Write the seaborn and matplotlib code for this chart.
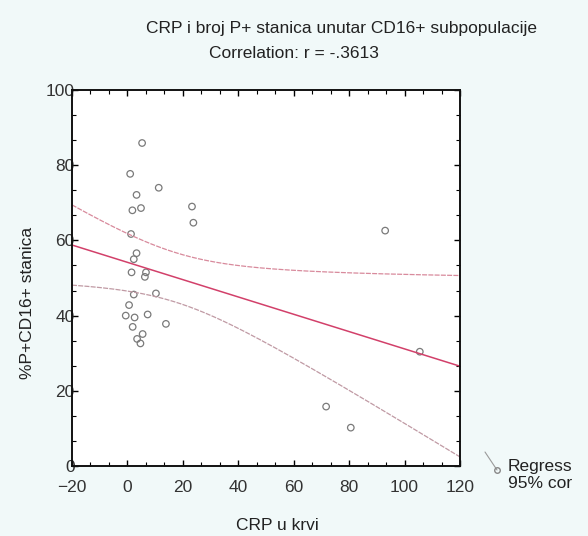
import numpy as np
import pandas as pd
import matplotlib
matplotlib.use("Agg")
import matplotlib.pyplot as plt
from matplotlib.lines import Line2D
from matplotlib.ticker import MultipleLocator
import seaborn as sns

# values
crp = [5.3, 1.0, 11.3, 3.3, 1.8, 4.9, 23.3, 23.8, 1.3, 3.3, 2.3, 1.5, 6.7, 6.3,
       2.3, 10.3, 0.6, -0.6, 2.6, 7.3, 13.9, 1.9, 5.5, 3.5, 4.7,
       93.0, 105.5, 71.7, 80.6]
p_cd16 = [85.9, 77.7, 74.0, 72.1, 68.0, 68.6, 69.0, 64.7, 61.7, 56.6, 55.0, 51.5, 51.5, 50.3,
          45.6, 45.9, 42.8, 40.0, 39.5, 40.3, 37.8, 37.0, 35.1, 33.8, 32.6,
          62.6, 30.4, 15.8, 10.2]
x_ticks = [-20, 0, 20, 40, 60, 80, 100, 120]
y_ticks = [0, 20, 40, 60, 80, 100]

df = pd.DataFrame({"CRP u krvi": crp, "%P+CD16+ stanica": p_cd16})

sns.set_style("ticks")
plt.rcParams["font.family"] = ["Liberation Sans", "DejaVu Sans"]

fig = plt.figure(figsize=(5.88, 5.36), dpi=100, facecolor="#f1f9f9")
ax = fig.add_axes([0.1224, 0.1306, 0.6599, 0.7015])
ax.set_facecolor("white")

sns.scatterplot(data=df, x="CRP u krvi", y="%P+CD16+ stanica", ax=ax,
                marker="o", s=22, facecolor="none", edgecolor="#7a7a7a", linewidth=0.9)
ax.set_xlim(x_ticks[0], x_ticks[-1])
ax.set_ylim(y_ticks[0], y_ticks[-1])
sns.regplot(data=df, x="CRP u krvi", y="%P+CD16+ stanica", ax=ax, scatter=False,
            ci=None, truncate=False, line_kws={"color": "#d2406a", "lw": 1.1})

# 95% confidence band of the mean response, drawn as lines
x = np.asarray(crp)
y = np.asarray(p_cd16)
n = len(x)
b, a = np.polyfit(x, y, 1)
resid = y - (a + b * x)
s = np.sqrt(np.sum(resid ** 2) / (n - 2))
t_crit = 2.052  # t(0.975, df=27)
xs = np.linspace(x_ticks[0], x_ticks[-1], 200)
se = s * np.sqrt(1 / n + (xs - x.mean()) ** 2 / np.sum((x - x.mean()) ** 2))
yfit = a + b * xs
ax.plot(xs, yfit + t_crit * se, color="#d88a9c", lw=0.9, ls=(0, (4, 1)))
ax.plot(xs, yfit - t_crit * se, color="#c09aa4", lw=0.9, ls=(0, (4, 1)))

ax.set_xticks(x_ticks)
ax.set_yticks(y_ticks)
ax.xaxis.set_minor_locator(MultipleLocator(20 / 3))
ax.yaxis.set_minor_locator(MultipleLocator(20 / 3))
ax.tick_params(which="both", direction="in", top=True, right=True, colors="black",
               labelsize=12.5)
ax.tick_params(axis="x", which="major", length=4, width=1, pad=10)
ax.tick_params(axis="y", which="major", length=4, width=1, pad=-2)
ax.tick_params(which="minor", length=3, width=0.8)
for t in ax.get_xticklabels() + ax.get_yticklabels():
    t.set_color("#333333")
for sp in ax.spines.values():
    sp.set_visible(True)
    sp.set_linewidth(1.4)
    sp.set_color("#111111")

ax.set_xlabel("")
ax.set_ylabel("")
fig.text(277 / 588, 1 - 525 / 536, "CRP u krvi", ha="center", va="center",
         fontsize=12.5, color="#222222")
fig.text(28 / 588, 1 - 303 / 536, "%P+CD16+ stanica", ha="center", va="center",
         rotation=90, fontsize=12.5, color="#222222")
fig.text(341 / 588, 1 - 28 / 536, "CRP i broj P+ stanica unutar CD16+ subpopulacije",
         ha="center", va="center", fontsize=12.5, color="#222222")
fig.text(294 / 588, 1 - 53 / 536, "Correlation: r = -.3613",
         ha="center", va="center", fontsize=12.5, color="#222222")

# legend fragment at the right edge
fig.add_artist(Line2D([485 / 588, 497 / 588], [1 - 452 / 536, 1 - 470 / 536],
                      transform=fig.transFigure, color="#9a9a9a", lw=0.8,
                      marker="o", markersize=4, markerfacecolor="none",
                      markevery=[1], markeredgecolor="#888888"))
fig.text(508 / 588, 1 - 466 / 536, "Regress", ha="left", va="center",
         fontsize=12.5, color="#222222")
fig.text(508 / 588, 1 - 484 / 536, "95% cor", ha="left", va="center",
         fontsize=12.5, color="#222222")

fig.savefig("out.png", dpi=100, facecolor=fig.get_facecolor())
